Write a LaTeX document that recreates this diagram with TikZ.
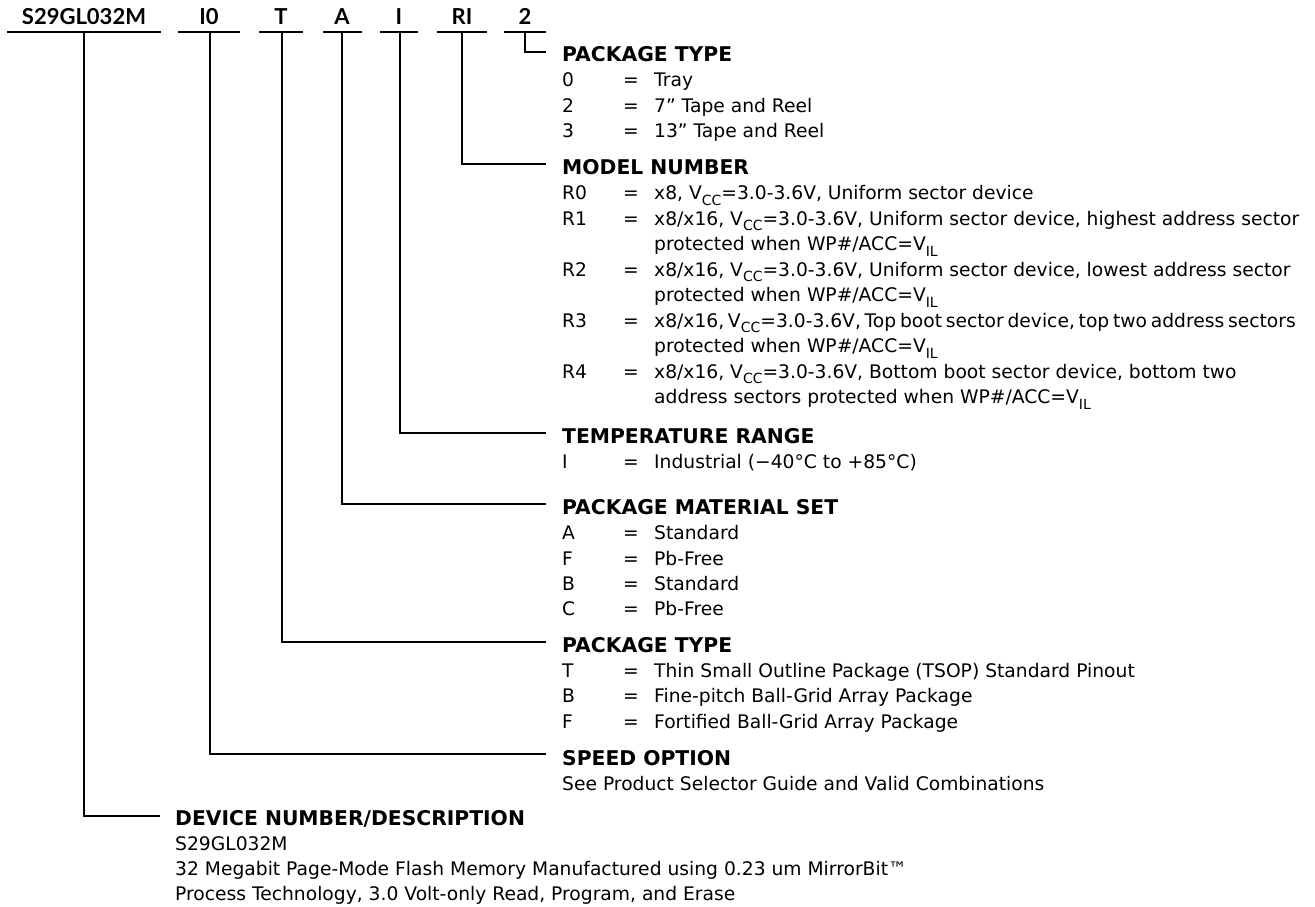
\documentclass[tikz,border=0pt]{standalone}
\usepackage{fontspec}
\setmainfont{DejaVu Sans}
\newfontfamily\codefont{Lato}
\newcommand\subtx[1]{\raisebox{-0.3em}{\fontsize{14}{14}\selectfont #1}}
\begin{document}
\begin{tikzpicture}[x=1pt,y=1pt,
  conn/.style={line width=2.7pt},
  code/.style={anchor=base, font=\codefont\bfseries\fontsize{22}{22}\selectfont, inner sep=0pt},
  head/.style={anchor=base west, font=\bfseries\fontsize{20.3}{21}\selectfont, inner sep=0pt},
  txt/.style={anchor=base west, font=\fontsize{18.7}{20}\selectfont, inner sep=0pt}]
\useasboundingbox (0,0) rectangle (1315,-907);

% ---- codes along the top ----
\node[code] (c1) at (84,-25) {S29GL032M};
\node[code] (c2) at (209,-25) {I0};
\node[code] (c3) at (281,-25) {T};
\node[code] (c4) at (342,-25) {A};
\node[code] (c5) at (399,-25) {I};
\node[code] (c6) at (462,-25) {RI};
\node[code] (c7) at (525,-25) {2};

\coordinate (u1a) at (7,-32);   \coordinate (u1b) at (161,-32);
\coordinate (u2a) at (178,-32); \coordinate (u2b) at (240,-32);
\coordinate (u3a) at (259,-32); \coordinate (u3b) at (303,-32);
\coordinate (u4a) at (323,-32); \coordinate (u4b) at (362,-32);
\coordinate (u5a) at (380,-32); \coordinate (u5b) at (418,-32);
\coordinate (u6a) at (437,-32); \coordinate (u6b) at (487,-32);
\coordinate (u7a) at (504,-32); \coordinate (u7b) at (546,-32);
\foreach \i in {1,...,7} {\draw[conn] (u\i a) -- (u\i b);}

\coordinate (v1) at (84,-32);
\coordinate (v2) at (210,-32);
\coordinate (v3) at (282,-32);
\coordinate (v4) at (342,-32);
\coordinate (v5) at (400,-32);
\coordinate (v6) at (462,-32);
\coordinate (v7) at (525,-32);

\coordinate (e7) at (546,-52);
\coordinate (e6) at (546,-164);
\coordinate (e5) at (546,-433);
\coordinate (e4) at (546,-504);
\coordinate (e3) at (546,-642);
\coordinate (e2) at (546,-754);
\coordinate (e1) at (160,-816);

\foreach \i in {1,...,7} {\draw[conn] (v\i) |- (e\i);}

% ---- PACKAGE TYPE (2) ----
\node[head] (h7) at (562,-62) {PACKAGE TYPE};
\node[txt] (p0a) at (562,-87) {0};   \node[txt] (p0b) at (623,-87) {=};   \node[txt] (p0c) at (654,-87) {Tray};
\node[txt] (p2a) at (562,-112) {2};  \node[txt] (p2b) at (623,-112) {=};  \node[txt] (p2c) at (654,-112) {7” Tape and Reel};
\node[txt] (p3a) at (562,-137) {3};  \node[txt] (p3b) at (623,-137) {=};  \node[txt] (p3c) at (654,-137) {13” Tape and Reel};

% ---- MODEL NUMBER ----
\node[head] (h6) at (562,-174) {MODEL NUMBER};
\node[txt] (r0a) at (562,-199.5) {R0}; \node[txt] (r0b) at (623,-199.5) {=};
\node[txt] (r0c) at (654,-199.5) {x8, V\subtx{CC}=3.0-3.6V, Uniform sector device};
\node[txt] (r1a) at (562,-225) {R1}; \node[txt] (r1b) at (623,-225) {=};
\node[txt] (r1c) at (654,-225) {x8/x16, V\subtx{CC}=3.0-3.6V, Uniform sector device, highest address sector};
\node[txt] (r1d) at (654,-250.5) {protected when WP\#/ACC=V\subtx{IL}};
\node[txt] (r2a) at (562,-276) {R2}; \node[txt] (r2b) at (623,-276) {=};
\node[txt] (r2c) at (654,-276) {x8/x16, V\subtx{CC}=3.0-3.6V, Uniform sector device, lowest address sector};
\node[txt] (r2d) at (654,-301.5) {protected when WP\#/ACC=V\subtx{IL}};
\node[txt] (r3a) at (562,-327) {R3}; \node[txt] (r3b) at (623,-327) {=};
\node[txt] (r3c) at (654,-327) {\spaceskip=0.2em\relax x8/x16, V\subtx{CC}=3.0-3.6V, Top boot sector device, top two address sectors};
\node[txt] (r3d) at (654,-352.5) {protected when WP\#/ACC=V\subtx{IL}};
\node[txt] (r4a) at (562,-378) {R4}; \node[txt] (r4b) at (623,-378) {=};
\node[txt] (r4c) at (654,-378) {x8/x16, V\subtx{CC}=3.0-3.6V, Bottom boot sector device, bottom two};
\node[txt] (r4d) at (654,-403.5) {address sectors protected when WP\#/ACC=V\subtx{IL}};

% ---- TEMPERATURE RANGE ----
\node[head] (h5) at (562,-443) {TEMPERATURE RANGE};
\node[txt] (tia) at (562,-468) {I}; \node[txt] (tib) at (623,-468) {=};
\node[txt] (tic) at (654,-468) {Industrial (−40°C to +85°C)};

% ---- PACKAGE MATERIAL SET ----
\node[head] (h4) at (562,-514) {PACKAGE MATERIAL SET};
\node[txt] (maa) at (562,-539.5) {A}; \node[txt] (mab) at (623,-539.5) {=}; \node[txt] (mac) at (654,-539.5) {Standard};
\node[txt] (mfa) at (562,-565) {F}; \node[txt] (mfb) at (623,-565) {=}; \node[txt] (mfc) at (654,-565) {Pb-Free};
\node[txt] (mba) at (562,-590) {B}; \node[txt] (mbb) at (623,-590) {=}; \node[txt] (mbc) at (654,-590) {Standard};
\node[txt] (mca) at (562,-615) {C}; \node[txt] (mcb) at (623,-615) {=}; \node[txt] (mcc) at (654,-615) {Pb-Free};

% ---- PACKAGE TYPE ----
\node[head] (h3) at (562,-652) {PACKAGE TYPE};
\node[txt] (kta) at (562,-677) {T}; \node[txt] (ktb) at (623,-677) {=}; \node[txt] (ktc) at (654,-677) {Thin Small Outline Package (TSOP) Standard Pinout};
\node[txt] (kba) at (562,-702.5) {B}; \node[txt] (kbb) at (623,-702.5) {=}; \node[txt] (kbc) at (654,-702.5) {Fine-pitch Ball-Grid Array Package};
\node[txt] (kfa) at (562,-728) {F}; \node[txt] (kfb) at (623,-728) {=}; \node[txt] (kfc) at (654,-728) {Fortified Ball-Grid Array Package};

% ---- SPEED OPTION ----
\node[head] (h2) at (562,-765) {SPEED OPTION};
\node[txt] (s1) at (562,-790) {See Product Selector Guide and Valid Combinations};

% ---- DEVICE NUMBER ----
\node[head] (h1) at (175,-825) {DEVICE NUMBER/DESCRIPTION};
\node[txt] (d1) at (175,-850) {S29GL032M};
\node[txt] (d2) at (175,-875) {32 Megabit Page-Mode Flash Memory Manufactured using 0.23 um MirrorBit™};
\node[txt] (d3) at (175,-900) {Process Technology, 3.0 Volt-only Read, Program, and Erase};
\end{tikzpicture}
\end{document}
